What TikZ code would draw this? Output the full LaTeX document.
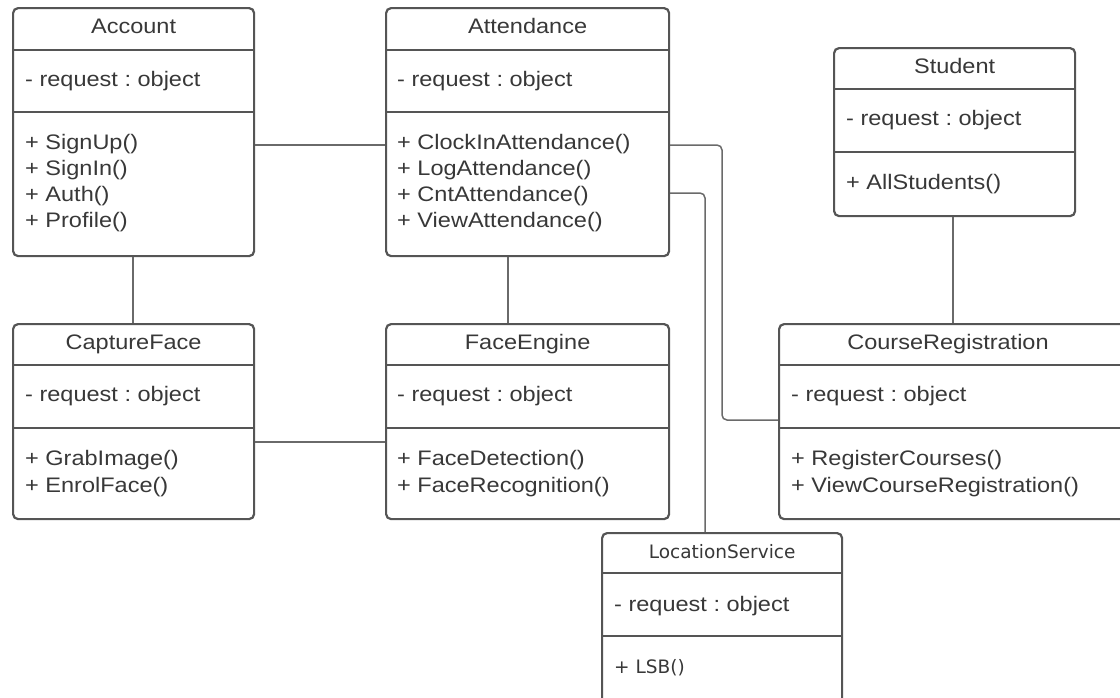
\documentclass[tikz,border=0pt]{standalone}
\usepackage{fontspec}
\setmainfont{Liberation Sans}[FakeStretch=1.12]
\newfontfamily\locfont{DejaVu Sans}
\definecolor{boxc}{HTML}{555555}
\definecolor{linec}{HTML}{6A6A6A}
\definecolor{txtc}{HTML}{383838}
\frenchspacing
\begin{document}
\begin{tikzpicture}[x=1pt,y=-1pt,
  classbox/.style={draw=boxc,line width=2.2pt,rounded corners=5pt,fill=white,anchor=north west,inner sep=0pt},
  sepline/.style={draw=boxc,line width=2pt},
  conn/.style={draw=linec,line width=1.5pt,rounded corners=5pt},
  txt/.style={text=txtc,font=\fontsize{21pt}{25pt}\selectfont,inner sep=0pt},
  ltxt/.style={txt,anchor=base west},
  ctxt/.style={txt,anchor=base},
  loctxt/.style={text=txtc,font=\locfont\fontsize{18.5pt}{22pt}\selectfont,inner sep=0pt}]
\useasboundingbox (0,0) rectangle (1120,697);
\clip (0,0) rectangle (1120,697);
% boxes
\node[classbox,minimum width=241pt,minimum height=248pt] (acc) at (12,7) {};
\node[classbox,minimum width=283pt,minimum height=248pt] (att) at (385,7) {};
\node[classbox,minimum width=241pt,minimum height=168pt] (stu) at (833,47) {};
\node[classbox,minimum width=241pt,minimum height=195pt] (cap) at (12,323) {};
\node[classbox,minimum width=283pt,minimum height=195pt] (fac) at (385,323) {};
\node[classbox,minimum width=360pt,minimum height=195pt] (crs) at (778,323) {};
\node[classbox,minimum width=240pt,minimum height=180pt] (loc) at (601,532) {};
% connectors
\draw[conn] (acc.east |- 0,145) -- (att.west |- 0,145);
\draw[conn] (acc.south -| 133,0) -- (cap.north -| 133,0);
\draw[conn] (att.south -| 508,0) -- (fac.north -| 508,0);
\draw[conn] (cap.east |- 0,442) -- (fac.west |- 0,442);
\draw[conn] (att.east |- 0,145) -- (722,145) -- (722,420) -- (crs.west |- 0,420);
\draw[conn] (att.east |- 0,193) -- (705,193) -- (loc.north -| 705,0);
\draw[conn] (stu.south -| 953,0) -- (crs.north -| 953,0);
% separators
\foreach \b/\h/\s in {acc/50/112, att/50/112, stu/89/152, cap/365/428, fac/365/428, crs/365/428, loc/573/636}{
  \draw[sepline] (\b.west |- 0,\h) -- (\b.east |- 0,\h);
  \draw[sepline] (\b.west |- 0,\s) -- (\b.east |- 0,\s);
}
% Account
\node[ctxt] (accT) at (acc.center |- 0,33) {Account};
\node[ltxt] (accA) at (25,86) {- request : object};
\node[ltxt] (accM1) at (25,149) {+ SignUp()};
\node[ltxt] (accM2) at (25,175) {+ SignIn()};
\node[ltxt] (accM3) at (25,201) {+ Auth()};
\node[ltxt] (accM4) at (25,227) {+ Profile()};
% Attendance
\node[ctxt] (attT) at (att.center |- 0,33) {Attendance};
\node[ltxt] (attA) at (397,86) {- request : object};
\node[ltxt] (attM1) at (397,149) {+ ClockInAttendance()};
\node[ltxt] (attM2) at (397,175) {+ LogAttendance()};
\node[ltxt] (attM3) at (397,201) {+ CntAttendance()};
\node[ltxt] (attM4) at (397,227) {+ ViewAttendance()};
% Student
\node[ctxt] (stuT) at (stu.center |- 0,73) {Student};
\node[ltxt] (stuA) at (846,125) {- request : object};
\node[ltxt] (stuM1) at (846,189) {+ AllStudents()};
% CaptureFace
\node[ctxt] (capT) at (cap.center |- 0,349) {CaptureFace};
\node[ltxt] (capA) at (25,401) {- request : object};
\node[ltxt] (capM1) at (25,465) {+ GrabImage()};
\node[ltxt] (capM2) at (25,492) {+ EnrolFace()};
% FaceEngine
\node[ctxt] (facT) at (fac.center |- 0,349) {FaceEngine};
\node[ltxt] (facA) at (397,401) {- request : object};
\node[ltxt] (facM1) at (397,465) {+ FaceDetection()};
\node[ltxt] (facM2) at (397,492) {+ FaceRecognition()};
% CourseRegistration
\node[ctxt] (crsT) at (948,349) {CourseRegistration};
\node[ltxt] (crsA) at (791,401) {- request : object};
\node[ltxt] (crsM1) at (791,465) {+ RegisterCourses()};
\node[ltxt] (crsM2) at (791,492) {+ ViewCourseRegistration()};
% LocationService
\node[loctxt,anchor=base] (locT) at (loc.center |- 0,558) {LocationService};
\node[ltxt] (locA) at (614,611) {- request : object};
\node[loctxt,anchor=base west] (locM1) at (614,673) {+ LSB()};
\end{tikzpicture}
\end{document}
